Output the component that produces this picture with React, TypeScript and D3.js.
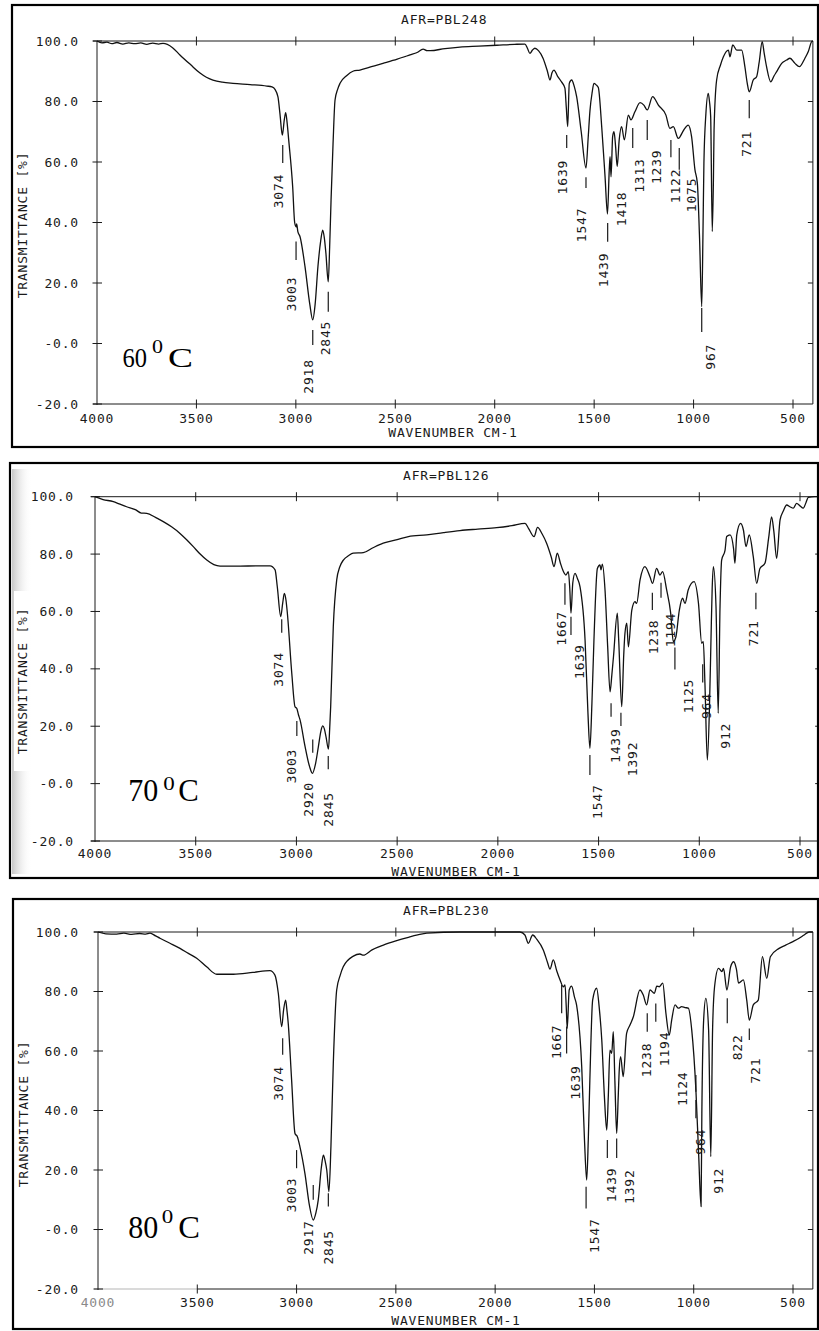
import React from "react";
import * as d3 from "d3";

type Pt = [number, number];
type PeakLabel = { text: string; wn: number; t: number; tick?: [number, number, number] };

const wnTicks = [4000, 3500, 3000, 2500, 2000, 1500, 1000, 500];
const wnTickLabels = ["4000", "3500", "3000", "2500", "2000", "1500", "1000", "500"];
const tTicks = [100, 80, 60, 40, 20, 0, -20];
const tTickLabels = ["100.0", "80.0", "60.0", "40.0", "20.0", "-0.0", "-20.0"];
const sampleIds = ["AFR=PBL248", "AFR=PBL126", "AFR=PBL230"];
const temperatures = ["60", "70", "80"];

// 60 °C spectrum: [wavenumber cm-1, transmittance %]
const spec60: Pt[] = [
  [4000, 100], [3975, 99.4], [3950, 99.6], [3925, 99.1], [3900, 99.5], [3870, 99.0], [3840, 99.4], [3810, 99.1],
  [3780, 99.4], [3750, 98.9], [3720, 99.3], [3690, 99.0], [3668, 99.2], [3620, 97.8], [3583, 95.4], [3530, 92.2],
  [3482, 89.4], [3450, 88.0], [3417, 87.1], [3370, 86.4], [3316, 86.0], [3230, 85.6], [3146, 85.1], [3120, 84.8],
  [3105, 84.0], [3090, 81.5], [3080, 76], [3068, 68.9], [3058, 74], [3051, 76.3], [3044, 73], [3036, 67.3],
  [3016, 51.8], [3006, 40], [2999, 38.6], [2996, 39.5], [2990, 37], [2979, 35.3], [2954, 25.4], [2930, 13],
  [2915, 7.8], [2903, 13], [2889, 25.4], [2875, 34], [2865, 37.5], [2857, 35], [2849, 29.9], [2837, 20.4],
  [2830, 32], [2823, 47.4], [2813, 66], [2803, 80.5], [2790, 84], [2778, 86], [2745, 88.5], [2713, 90],
  [2678, 90.4], [2620, 91.5], [2562, 92.6], [2490, 94], [2426, 95.4], [2390, 96.2], [2360, 97.3], [2340, 96.8],
  [2325, 96.8], [2250, 97.5], [2175, 98], [2080, 98.3], [1989, 98.6], [1900, 98.9], [1848, 99], [1835, 97.5],
  [1823, 95.9], [1810, 97], [1798, 97.6], [1780, 96.8], [1757, 94.3], [1735, 90], [1722, 87.1], [1712, 89.5],
  [1702, 90.4], [1685, 88.5], [1664, 86.5], [1647, 84.4], [1640, 78], [1633, 71.7], [1625, 86], [1613, 87.1],
  [1600, 85], [1588, 81.6], [1565, 70], [1541, 58], [1530, 68], [1521, 77], [1510, 83], [1501, 86],
  [1490, 85.5], [1479, 84.6], [1462, 71.7], [1445, 55], [1433, 42.8], [1424, 57.4], [1420, 61.8], [1415, 55.1],
  [1407, 68.4], [1400, 70], [1392, 65], [1384, 58.5], [1374, 67.3], [1362, 71.7], [1348, 67.3], [1328, 75.5],
  [1315, 73.9], [1295, 76.6], [1269, 79.6], [1250, 78.8], [1233, 77.2], [1206, 81.6], [1177, 78.8], [1139, 75.5],
  [1119, 71.1], [1102, 71.7], [1077, 67.8], [1050, 70.5], [1027, 72.2], [1010, 68.4], [993, 57.4], [981, 53],
  [970, 35], [959, 12.2], [953, 35], [948, 59.6], [938, 76], [926, 82.7], [920, 80], [914, 75],
  [906, 37], [900, 55], [897, 70.6], [884, 87.1], [865, 92], [850, 94.8], [825, 97], [817, 94.8],
  [803, 98.7], [783, 97], [758, 97], [742, 91.5], [730, 86], [720, 83.2], [700, 87.1], [683, 88.2],
  [670, 93], [655, 99.8], [645, 96], [633, 91.5], [612, 86.5], [595, 88.5], [582, 89.9], [557, 92.6],
  [532, 93.7], [515, 94.3], [490, 92.6], [468, 91.5], [440, 94.3], [423, 96.5], [406, 99.8], [400, 100],
];

// 70 °C spectrum
const spec70: Pt[] = [
  [4000, 100], [3960, 99], [3909, 98.3], [3880, 97.5], [3843, 96.5], [3800, 95.5], [3770, 94.3], [3743, 94.2],
  [3700, 92.8], [3661, 91.3], [3620, 89.5], [3578, 87.2], [3545, 85], [3512, 82.6], [3478, 80], [3445, 77.9],
  [3410, 76.3], [3379, 75.8], [3280, 75.8], [3200, 75.9], [3131, 75.9], [3106, 74.5], [3095, 68.6], [3078, 58.2],
  [3068, 63], [3060, 66.3], [3052, 64], [3045, 59.4], [3023, 38.4], [3007, 26.8], [2998, 26.2], [2990, 24],
  [2982, 22.2], [2957, 12.9], [2935, 6], [2921, 3.6], [2905, 7], [2891, 12.9], [2878, 18.5], [2869, 20.1],
  [2861, 19], [2853, 16.3], [2841, 12], [2835, 19], [2830, 26.8], [2817, 54.7], [2800, 71], [2785, 75.5],
  [2767, 77.9], [2740, 79.5], [2718, 80.3], [2668, 80.5], [2620, 82.2], [2569, 83.8], [2500, 85], [2444, 86.1],
  [2353, 86.7], [2270, 87.5], [2188, 88.2], [2100, 88.7], [2006, 89.2], [1930, 89.9], [1865, 90.7], [1848, 89],
  [1820, 86.1], [1803, 89.3], [1780, 87], [1758, 83.8], [1735, 79], [1721, 75.6], [1705, 80.3], [1690, 77],
  [1678, 74.5], [1662, 72.7], [1650, 73.9], [1643, 68], [1637, 59.4], [1628, 70], [1617, 73.3], [1605, 71.5],
  [1592, 68.6], [1567, 50], [1553, 25], [1543, 12.3], [1533, 28], [1523, 50], [1506, 75], [1493, 76.2],
  [1488, 74.5], [1481, 76.5], [1468, 67.5], [1455, 48], [1443, 32], [1434, 38], [1426, 44.2], [1407, 59.4],
  [1400, 50], [1385, 26.8], [1375, 45], [1369, 52.4], [1360, 55.9], [1352, 47.7], [1335, 60.5], [1319, 63.4],
  [1311, 62.8], [1294, 71], [1270, 75.6], [1245, 72.1], [1232, 69.8], [1212, 75], [1195, 72.7], [1182, 73.9],
  [1162, 67.5], [1142, 59.4], [1129, 49.5], [1116, 51.2], [1099, 60.5], [1083, 64.6], [1071, 62.8], [1055, 67.5],
  [1026, 70.4], [1004, 62.8], [988, 48.9], [980, 49.5], [972, 35], [960, 8.2], [950, 25], [942, 50],
  [936, 68], [930, 75.6], [917, 61.7], [906, 24.5], [897, 61.7], [889, 77.9], [872, 81.4], [864, 86.1],
  [847, 86.7], [830, 82], [823, 76.8], [814, 86.7], [795, 90.7], [781, 88.4], [768, 82.6], [752, 86.7],
  [732, 79.1], [715, 69.8], [699, 75], [674, 76.8], [655, 86], [641, 93], [630, 88], [616, 78.5],
  [599, 91.9], [583, 95], [566, 97.1], [550, 96.5], [533, 96], [517, 97.7], [500, 96.8], [484, 96],
  [470, 98], [459, 99.8], [426, 100], [400, 100],
];

// 80 °C spectrum
const spec80: Pt[] = [
  [4000, 100], [3960, 99.4], [3906, 99.3], [3870, 99.6], [3830, 99.2], [3790, 99.5], [3760, 99.3], [3738, 99.6],
  [3710, 98.7], [3688, 97.9], [3640, 96.3], [3587, 94.5], [3545, 92.8], [3503, 91.2], [3453, 88.3], [3402, 85.8],
  [3318, 85.8], [3220, 86.4], [3134, 87], [3109, 85.5], [3092, 79.4], [3075, 68.2], [3065, 74], [3055, 77.1],
  [3049, 74], [3042, 69.3], [3025, 50.3], [3008, 32.3], [2996, 31.2], [2983, 27.8], [2958, 18.9], [2935, 8],
  [2916, 3.2], [2903, 5.5], [2891, 9.9], [2875, 21], [2865, 25], [2856, 23], [2848, 20], [2837, 12.7],
  [2827, 27.8], [2815, 55.9], [2798, 80.5], [2780, 85.5], [2765, 88.3], [2714, 91.9], [2681, 92.6], [2664, 92.2],
  [2620, 94], [2563, 95.6], [2500, 97], [2437, 98.2], [2390, 99], [2344, 99.6], [2177, 100], [1992, 100],
  [1875, 100], [1850, 99], [1833, 96.2], [1811, 99], [1790, 97.5], [1757, 93.9], [1735, 89.5], [1724, 87.5],
  [1707, 90.6], [1690, 87], [1673, 83.9], [1657, 81.6], [1648, 82.2], [1642, 75], [1637, 67.6], [1627, 80.5],
  [1615, 81.8], [1600, 78], [1590, 75.5], [1564, 54.7], [1550, 30], [1539, 16.6], [1531, 30], [1523, 50.3],
  [1509, 77.1], [1489, 81.1], [1475, 74], [1463, 63.7], [1450, 45], [1438, 33.4], [1430, 45], [1422, 60.3],
  [1413, 59.2], [1405, 66.5], [1397, 50], [1388, 32.3], [1380, 45], [1375, 53.6], [1368, 58.1], [1355, 51.4],
  [1338, 65.9], [1321, 68.7], [1304, 71.5], [1271, 80.5], [1254, 78.8], [1237, 75.5], [1220, 80.5], [1198, 79.4],
  [1186, 81.8], [1173, 81.6], [1156, 82.8], [1140, 72.7], [1123, 65.4], [1111, 70.4], [1094, 75.5], [1077, 74.4],
  [1061, 74.9], [1044, 74.6], [1027, 74.4], [1010, 67.1], [989, 46.9], [975, 25], [963, 7.7], [959, 39.1],
  [950, 70.4], [939, 77.7], [925, 67.1], [914, 24.5], [905, 67.1], [895, 81.6], [875, 87.8], [858, 86.7],
  [850, 87.8], [833, 80.5], [814, 88.3], [799, 90], [785, 87.5], [774, 82.8], [750, 83.9], [733, 77.1],
  [720, 70.4], [700, 75.5], [675, 77.1], [654, 91.7], [632, 84.4], [614, 91.7], [570, 94.5], [537, 95.6],
  [503, 96.7], [469, 97.9], [444, 99], [419, 100], [400, 100],
];

// peak annotations: text centre (wn, T) and tick (wn, T from, T to)
const labels60: PeakLabel[] = [
  { text: "3074", wn: 3088, t: 50.4, tick: [3066, 65.6, 59.7] },
  { text: "3003", wn: 3021, t: 16.4, tick: [2999, 33.7, 27.6] },
  { text: "2918", wn: 2937, t: -10.9, tick: [2915, 4.5, -0.5] },
  { text: "2845", wn: 2853, t: 1.8, tick: [2837, 17.1, 10.5] },
  { text: "1639", wn: 1658, t: 55, tick: [1638, 68.9, 64.6] },
  { text: "1547", wn: 1563, t: 39.2, tick: [1541, 55, 51.4] },
  { text: "1439", wn: 1454, t: 24.3, tick: [1432, 39.8, 33.6] },
  { text: "1418", wn: 1361, t: 44.5 },
  { text: "1313", wn: 1273, t: 55.5, tick: [1306, 71.2, 64.6] },
  { text: "1239", wn: 1185, t: 58.4, tick: [1233, 73.9, 67.3] },
  { text: "1122", wn: 1093, t: 52.1, tick: [1114, 67.3, 61.6] },
  { text: "1075", wn: 1009, t: 49.1, tick: [1072, 64.6, 57.4] },
  { text: "967", wn: 917, t: -4.4, tick: [959, 11.7, 3.8] },
  { text: "721", wn: 733, t: 66, tick: [720, 80.5, 74.5] },
];

const labels70: PeakLabel[] = [
  { text: "3074", wn: 3090, t: 39.8, tick: [3073, 57.3, 52.6] },
  { text: "3003", wn: 3023, t: 6.1, tick: [2998, 21.8, 16.6] },
  { text: "2920", wn: 2941, t: -5.5, tick: [2919, 15.4, 10.8] },
  { text: "2845", wn: 2842, t: -9, tick: [2842, 9.6, 5] },
  { text: "1667", wn: 1683, t: 54.1, tick: [1667, 69.8, 62.3] },
  { text: "1639", wn: 1596, t: 42.5, tick: [1637, 58.2, 51.8] },
  { text: "1547", wn: 1506, t: -6.3, tick: [1543, 10, 3] },
  { text: "1439", wn: 1415, t: 13.2, tick: [1438, 28, 23.3] },
  { text: "1392", wn: 1331, t: 8.6, tick: [1389, 24.7, 20.1] },
  { text: "1238", wn: 1228, t: 51.1, tick: [1233, 66.5, 60.5] },
  { text: "1194", wn: 1145, t: 53.5, tick: [1190, 70, 64.8] },
  { text: "1125", wn: 1054, t: 30.5, tick: [1121, 47.4, 39.8] },
  { text: "964", wn: 963, t: 27, tick: [983, 41.6, 35.2] },
  { text: "912", wn: 872, t: 16.7 },
  { text: "721", wn: 732, t: 52.4, tick: [719, 66.5, 60.8] },
];

const labels80: PeakLabel[] = [
  { text: "3074", wn: 3092, t: 49.1, tick: [3070, 64.3, 58.7] },
  { text: "3003", wn: 3025, t: 11.6, tick: [3000, 26.7, 20.6] },
  { text: "2917", wn: 2941, t: -2.7, tick: [2916, 15, 10] },
  { text: "2845", wn: 2840, t: -6, tick: [2840, 12.2, 7.7] },
  { text: "1667", wn: 1690, t: 63.1, tick: [1665, 82.2, 72.7] },
  { text: "1639", wn: 1593, t: 49.4, tick: [1640, 68.2, 59.2] },
  { text: "1547", wn: 1502, t: -2.1, tick: [1542, 14.4, 7.1] },
  { text: "1439", wn: 1413, t: 15, tick: [1435, 30.1, 24] },
  { text: "1392", wn: 1321, t: 14.4, tick: [1388, 30.6, 24] },
  { text: "1238", wn: 1237, t: 57, tick: [1234, 72.7, 66.5] },
  { text: "1194", wn: 1145, t: 60.7, tick: [1191, 76, 69.8] },
  { text: "1124", wn: 1055, t: 47.3, tick: [989, 51.9, 46.3] },
  { text: "964", wn: 965, t: 29.5, tick: [989, 43.5, 37.4] },
  { text: "912", wn: 876, t: 16.4 },
  { text: "822", wn: 778, t: 61.2, tick: [831, 77.7, 69.3] },
  { text: "721", wn: 691, t: 53.4, tick: [720, 67.6, 63.7] },
];

const spectra = [spec60, spec70, spec80];
const peakLabels = [labels60, labels70, labels80];

type TempLayout = {
  x: number; w: number; supX: number; supW: number; cX: number; cW: number;
  base: number; supBase: number; size: number; supSize: number;
};

type Layout = {
  frame: [number, number, number, number];
  x4000: number; x500: number; y100: number; yM20: number;
  yLabelRight: number; xLabelY: number;
  titleX: number; titleY: number;
  axisTitleX: number; axisTitleY: number;
  wnTitleX: number; wnTitleY: number;
  temp: TempLayout;
  shadow?: boolean; fadedStart?: boolean;
};

const layouts: Layout[] = [
  {
    frame: [12, 5, 818, 447], x4000: 97, x500: 793, y100: 41, yM20: 404,
    yLabelRight: 79, xLabelY: 418, titleX: 401, titleY: 19,
    axisTitleX: 22, axisTitleY: 225, wnTitleX: 453, wnTitleY: 432,
    temp: { x: 122.5, w: 24.5, supX: 152, supW: 11, cX: 168, cW: 25, base: 367, supBase: 353, size: 27, supSize: 18 },
  },
  {
    frame: [10, 463, 818, 878], x4000: 95, x500: 800, y100: 496.7, yM20: 841,
    yLabelRight: 74, xLabelY: 853, titleX: 403, titleY: 475,
    axisTitleX: 22, axisTitleY: 681, wnTitleX: 456, wnTitleY: 871,
    temp: { x: 128.3, w: 30, supX: 163.3, supW: 11.5, cX: 178.3, cW: 20.5, base: 800.5, supBase: 790, size: 31, supSize: 18 },
    shadow: true,
  },
  {
    frame: [13, 899, 818, 1329], x4000: 98, x500: 793, y100: 932, yM20: 1289,
    yLabelRight: 79, xLabelY: 1302, titleX: 403, titleY: 910,
    axisTitleX: 23, axisTitleY: 1114, wnTitleX: 456, wnTitleY: 1320,
    temp: { x: 128.3, w: 30, supX: 161.7, supW: 11.5, cX: 178.3, cW: 21.7, base: 1238.3, supBase: 1223, size: 32, supSize: 18 },
    fadedStart: true,
  },
];

const ink = "#1a1a1a";
const mono: React.CSSProperties = {
  fontFamily: "'DejaVu Sans Mono', monospace",
  fontSize: 13,
  letterSpacing: 0.8,
};

function Panel({ idx }: { idx: number }) {
  const L = layouts[idx];
  const spec = spectra[idx];
  const labels = peakLabels[idx];
  const x = d3.scaleLinear().domain([4000, 500]).range([L.x4000, L.x500]);
  const y = d3.scaleLinear().domain([100, -20]).range([L.y100, L.yM20]);
  const line = d3
    .line<Pt>()
    .x((d) => x(d[0]))
    .y((d) => y(d[1]))
    .curve(d3.curveMonotoneX);
  const xl = x(4000);
  const xr = x(400);
  const yt = y(100);
  const yb = y(-20);
  const [fx1, fy1, fx2, fy2] = L.frame;
  const clipId = `clip-${idx}`;
  const T = L.temp;

  return (
    <g>
      <defs>
        <clipPath id={clipId}>
          <rect x={fx1} y={fy1} width={fx2 - fx1} height={fy2 - fy1} />
        </clipPath>
        <linearGradient id={`shade-${idx}`} x1="0" x2="1" y1="0" y2="0">
          <stop offset="0" stopColor="#9a9a9a" stopOpacity={0.55} />
          <stop offset="1" stopColor="#ffffff" stopOpacity={0} />
        </linearGradient>
      </defs>
      <g clipPath={`url(#${clipId})`}>
        {L.shadow && (
          <g>
            <rect x={fx1 + 2} y={fy1 + 6} width={20} height={fy2 - fy1 - 10} fill={`url(#shade-${idx})`} />
            <rect x={fx1 + 4} y={L.axisTitleY - 90} width={16} height={180} fill="#ffffff" />
          </g>
        )}
        {/* axes */}
        <line x1={xl - 4} x2={xr} y1={yt} y2={yt} stroke={ink} strokeWidth={1} />
        <line
          x1={L.fadedStart ? x(3500) : xl - 4}
          x2={xr}
          y1={yb}
          y2={yb}
          stroke={ink}
          strokeWidth={1}
        />
        {L.fadedStart && <line x1={xl - 4} x2={x(3500)} y1={yb} y2={yb} stroke="#b5b5b5" strokeWidth={1} />}
        <line x1={xl} x2={xl} y1={yt} y2={yb + 1} stroke={ink} strokeWidth={1} />
        <line x1={xr} x2={xr} y1={yt} y2={yb} stroke={ink} strokeWidth={1} />
        {wnTicks.slice(1).map((w) => (
          <g key={`tt${w}`}>
            <line x1={x(w)} x2={x(w)} y1={yt - 4.5} y2={yt + 4.5} stroke={ink} />
            <line x1={x(w)} x2={x(w)} y1={yb - 4.5} y2={yb + 4.5} stroke={ink} />
          </g>
        ))}
        {tTicks.map((t) => (
          <line key={`yt${t}`} x1={xl - 4.5} x2={xl + 5} y1={y(t)} y2={y(t)} stroke={ink} />
        ))}
        {tTicks.slice(1, -1).map((t) => (
          <line key={`yr${t}`} x1={xr - 5} x2={xr} y1={y(t)} y2={y(t)} stroke={ink} />
        ))}
        {/* tick labels */}
        {tTicks.map((t, i) => (
          <text
            key={`yl${t}`}
            x={L.yLabelRight}
            y={y(t)}
            textAnchor="end"
            dominantBaseline="central"
            style={mono}
            fill={ink}
          >
            {tTickLabels[i]}
          </text>
        ))}
        {wnTicks.map((w, i) => (
          <text
            key={`xl${w}`}
            x={x(w)}
            y={L.xLabelY}
            textAnchor="middle"
            dominantBaseline="central"
            style={mono}
            fill={L.fadedStart && i === 0 ? "#8a8a8a" : ink}
          >
            {wnTickLabels[i]}
          </text>
        ))}
        <text
          x={L.wnTitleX}
          y={L.wnTitleY}
          textAnchor="middle"
          dominantBaseline="central"
          style={mono}
          fill={ink}
        >
          WAVENUMBER CM-1
        </text>
        <text
          transform={`translate(${L.axisTitleX},${L.axisTitleY}) rotate(-90)`}
          textAnchor="middle"
          dominantBaseline="central"
          style={mono}
          fill={ink}
        >
          TRANSMITTANCE [%]
        </text>
        <text x={L.titleX} y={L.titleY} dominantBaseline="central" style={mono} fill={ink}>
          {sampleIds[idx]}
        </text>
        {/* spectrum */}
        <path d={line(spec) || ""} fill="none" stroke="#111" strokeWidth={1.3} strokeLinejoin="round" />
        {/* peak annotations */}
        {labels.map((l, i) => (
          <g key={`pk${i}`}>
            {l.tick && (
              <line
                x1={x(l.tick[0])}
                x2={x(l.tick[0])}
                y1={y(l.tick[1])}
                y2={y(l.tick[2])}
                stroke={ink}
                strokeWidth={1.2}
              />
            )}
            <text
              transform={`translate(${x(l.wn)},${y(l.t)}) rotate(-90)`}
              textAnchor="middle"
              dominantBaseline="central"
              style={mono}
              fill={ink}
            >
              {l.text}
            </text>
          </g>
        ))}
        {/* temperature label */}
        <g fontFamily="'Liberation Serif', 'Times New Roman', serif" fill="#000">
          <text x={T.x} y={T.base} fontSize={T.size} textLength={T.w} lengthAdjust="spacingAndGlyphs">
            {temperatures[idx]}
          </text>
          <text x={T.supX} y={T.supBase} fontSize={T.supSize} textLength={T.supW} lengthAdjust="spacingAndGlyphs">
            0
          </text>
          <text x={T.cX} y={T.base} fontSize={T.size} textLength={T.cW} lengthAdjust="spacingAndGlyphs">
            C
          </text>
        </g>
      </g>
      <rect
        x={fx1}
        y={fy1}
        width={fx2 - fx1}
        height={fy2 - fy1}
        fill="none"
        stroke="#000"
        strokeWidth={2.2}
      />
    </g>
  );
}

export default function App() {
  return (
    <svg
      width={819}
      height={1331}
      viewBox="0 0 819 1331"
      style={{ position: "absolute", left: 0, top: 0, background: "#ffffff" }}
    >
      <rect x={0} y={0} width={819} height={1331} fill="#ffffff" />
      {[0, 1, 2].map((i) => (
        <Panel key={i} idx={i} />
      ))}
    </svg>
  );
}
